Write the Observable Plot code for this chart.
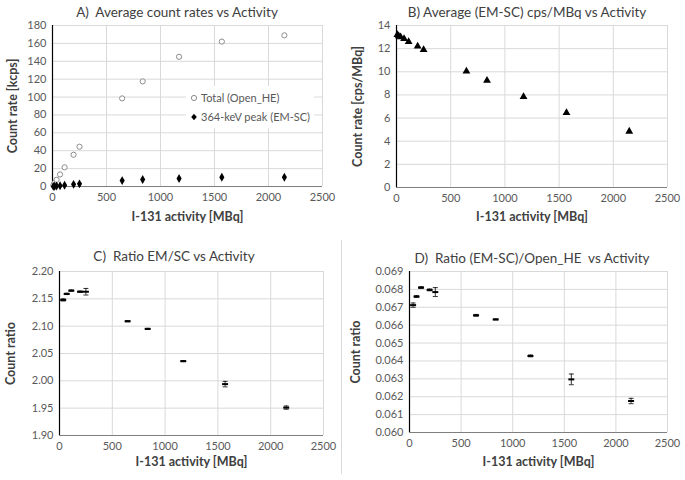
<!DOCTYPE html>
<html>
<head>
<meta charset="utf-8">
<script src="https://cdn.jsdelivr.net/npm/d3@7"></script>
<script src="https://cdn.jsdelivr.net/npm/@observablehq/plot@0.6"></script>
<style>
  body { margin: 0; background: #fff; }
  #root { position: relative; width: 685px; height: 480px; background: #fff; font-family: Lato, "Open Sans", sans-serif; overflow: hidden; }
  .panel { position: absolute; }
  .title { position: absolute; transform: translate(-50%, -50%); white-space: pre; font-size: 13.5px; color: #404040; }
  .legend { position: absolute; background: #fff; font-size: 11px; color: #595959; padding: 2px 4px; }
  .legend div { display: flex; align-items: center; height: 19px; white-space: pre; }
  .legend svg { margin-right: 3px; }
</style>
</head>
<body>
<div id="root"></div>
<script>
// ---- Data ----
const activityAB = [8, 20, 38, 70, 112, 195, 250, 645, 835, 1172, 1568, 2147];
const totalOpenHE = [1.5, 4, 7.5, 13.5, 21.5, 35.5, 44.5, 98.5, 117.5, 145, 162, 169];
const peakEMSC = [0.11, 0.26, 0.49, 0.9, 1.41, 2.38, 2.98, 6.6, 7.8, 8.9, 10.3, 10.4];
const cpsPerMBq = [13.2, 13.1, 13.0, 12.85, 12.6, 12.2, 11.9, 10.05, 9.25, 7.85, 6.45, 4.85];

const activityCD = [35, 68, 112, 195, 250, 645, 835, 1172, 1568, 2147];
const ratioEMSC = [2.148, 2.159, 2.165, 2.163, 2.163, 2.109, 2.095, 2.036, 1.994, 1.951];
const errEMSC = [0.002, 0.0012, 0.0012, 0.0012, 0.006, 0.001, 0.001, 0.001, 0.005, 0.003];
const ratioOpenHE = [0.06712, 0.0676, 0.0681, 0.06797, 0.06785, 0.06655, 0.06632, 0.06428, 0.06297, 0.06176];
const errOpenHE = [0.00012, 0.00005, 0.00005, 0.00005, 0.00025, 0.00005, 0.00003, 0.00005, 0.0003, 0.00015];

const xTicks = [0, 500, 1000, 1500, 2000, 2500];
const yTicksA = [0, 20, 40, 60, 80, 100, 120, 140, 160, 180];
const yTicksB = [0, 2, 4, 6, 8, 10, 12, 14];
const yTicksC = [1.90, 1.95, 2.00, 2.05, 2.10, 2.15, 2.20];
const yTicksD = [0.060, 0.061, 0.062, 0.063, 0.064, 0.065, 0.066, 0.067, 0.068, 0.069];

const titles = ["A)  Average count rates vs Activity", "B) Average (EM-SC) cps/MBq vs Activity", "C)  Ratio EM/SC vs Activity", "D)  Ratio (EM-SC)/Open_HE  vs Activity"];
const xLabel = "I-131 activity [MBq]";
const yLabels = ["Count rate [kcps]", "Count rate [cps/MBq]", "Count ratio", "Count ratio"];
const legendLabels = ["Total (Open_HE)", "364-keV peak (EM-SC)"];

// ---- Helpers ----
const root = document.getElementById("root");
const dashSymbol = (w) => ({ draw(ctx) { ctx.moveTo(-w, 0); ctx.lineTo(w, 0); } });

function frameMarks(yTicks, yFormat, ylab, xdy, ydx) {
  const ymin = yTicks[0];
  return [
    Plot.gridX({ ticks: xTicks, stroke: "#d9d9d9", strokeOpacity: 1 }),
    Plot.gridY({ ticks: yTicks, stroke: "#d9d9d9", strokeOpacity: 1 }),
    Plot.axisX({ ticks: xTicks, tickSize: 0, tickPadding: 7, label: null, tickFormat: d => String(d), fill: "#595959" }),
    Plot.axisY({ ticks: yTicks, tickSize: 0, tickPadding: 6, label: null, tickFormat: yFormat, fill: "#595959" }),
    Plot.ruleY([ymin], { stroke: "#7f7f7f" }),
    Plot.ruleX([0], { stroke: "#000", strokeWidth: 1.2 }),
    Plot.text([xLabel], { text: d => d, frameAnchor: "bottom", dy: xdy, textAnchor: "middle", fontWeight: "bold", fontSize: 12.5, fill: "#404040" }),
    Plot.text([ylab], { text: d => d, frameAnchor: "left", dx: ydx, rotate: -90, textAnchor: "middle", fontWeight: "bold", fontSize: 12.5, fill: "#404040" })
  ];
}

function place(svg, left, top) {
  const wrap = document.createElement("div");
  wrap.className = "panel";
  wrap.style.left = left + "px";
  wrap.style.top = top + "px";
  wrap.appendChild(svg);
  root.appendChild(wrap);
}
function addTitle(text, cx, cy) {
  const t = document.createElement("div");
  t.className = "title";
  t.textContent = text;
  t.style.left = cx + "px";
  t.style.top = cy + "px";
  root.appendChild(t);
}
const style = { fontFamily: "Lato, 'Open Sans', sans-serif", fontSize: "11px", color: "#595959", background: "transparent", overflow: "visible" };

// ---- Panel A ----
const dataA = activityAB.map((a, i) => ({ a, total: totalOpenHE[i], peak: peakEMSC[i] }));
place(Plot.plot({
  width: 340, height: 235, marginLeft: 52, marginRight: 18, marginTop: 25, marginBottom: 49,
  style,
  x: { domain: [0, 2500] }, y: { domain: [0, 180] },
  marks: [
    ...frameMarks(yTicksA, d => String(d), yLabels[0], 34, -40),
    Plot.dot(dataA, { x: "a", y: "total", r: 2.6, stroke: "#8c8c8c", strokeWidth: 1, fill: "#fff" }),
    Plot.dot(dataA, { x: "a", y: "peak", symbol: "diamond", r: 2.7, fill: "#000", stroke: "none" })
  ]
}), 0, 0);

// ---- Panel B ----
const dataB = activityAB.map((a, i) => ({ a, v: cpsPerMBq[i] }));
place(Plot.plot({
  width: 345, height: 235, marginLeft: 56, marginRight: 18, marginTop: 25, marginBottom: 48,
  style,
  x: { domain: [0, 2500] }, y: { domain: [0, 14] },
  marks: [
    ...frameMarks(yTicksB, d => String(d), yLabels[1], 33, -39),
    Plot.dot(dataB, { x: "a", y: "v", symbol: "triangle", r: 2.9, fill: "#000", stroke: "none" })
  ]
}), 340, 0);

// ---- Error-bar panel builder ----
function errMarks(data) {
  return [
    Plot.ruleX(data, { x: "a", y1: d => d.v - d.e, y2: d => d.v + d.e, stroke: "#000", strokeWidth: 0.8 }),
    Plot.dot(data, { x: "a", y: d => d.v + d.e, symbol: dashSymbol(2.5), stroke: "#000", strokeWidth: 0.8, fill: "none" }),
    Plot.dot(data, { x: "a", y: d => d.v - d.e, symbol: dashSymbol(2.5), stroke: "#000", strokeWidth: 0.8, fill: "none" }),
    Plot.dot(data, { x: "a", y: "v", symbol: dashSymbol(3), stroke: "#000", strokeWidth: 2, fill: "none" })
  ];
}

// ---- Panel C ----
const dataC = activityCD.map((a, i) => ({ a, v: ratioEMSC[i], e: errEMSC[i] }));
place(Plot.plot({
  width: 340, height: 245, marginLeft: 59, marginRight: 17, marginTop: 36, marginBottom: 45,
  style,
  x: { domain: [0, 2500] }, y: { domain: [1.90, 2.20] },
  marks: [
    ...frameMarks(yTicksC, d3.format(".2f"), yLabels[2], 30, -49),
    ...errMarks(dataC)
  ]
}), 0, 235);

// ---- Panel D ----
const dataD = activityCD.map((a, i) => ({ a, v: ratioOpenHE[i], e: errOpenHE[i] }));
place(Plot.plot({
  width: 345, height: 245, marginLeft: 69, marginRight: 18, marginTop: 36, marginBottom: 48,
  style,
  x: { domain: [0, 2500] }, y: { domain: [0.060, 0.069] },
  marks: [
    ...frameMarks(yTicksD, d3.format(".3f"), yLabels[3], 33, -54),
    ...errMarks(dataD)
  ]
}), 340, 235);

// faint frame line on panel D
const edge = document.createElement("div");
edge.style.cssText = "position:absolute;left:341px;top:240px;width:1px;height:234px;background:#d9d9d9;";
root.appendChild(edge);

// ---- Titles ----
addTitle(titles[0], 177, 12);
addTitle(titles[1], 527, 12);
addTitle(titles[2], 174, 256);
addTitle(titles[3], 532, 258);

// ---- Legend (panel A) ----
const leg = document.createElement("div");
leg.className = "legend";
leg.style.left = "186px";
leg.style.top = "86px";
const sym = [
  '<svg width="8" height="8"><circle cx="4" cy="4" r="2.6" fill="#fff" stroke="#8c8c8c"/></svg>',
  '<svg width="8" height="8"><path d="M4 0.8L6.8 4L4 7.2L1.2 4Z" fill="#000"/></svg>'
];
legendLabels.forEach((lab, i) => {
  const row = document.createElement("div");
  row.innerHTML = sym[i];
  row.appendChild(document.createTextNode(lab));
  leg.appendChild(row);
});
root.appendChild(leg);
</script>
</body>
</html>
